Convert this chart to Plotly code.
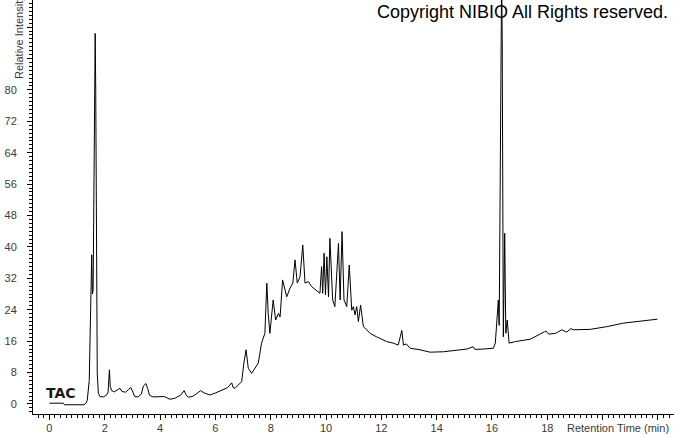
import plotly.graph_objects as go

# retention time (min) and relative intensity
rt_min = [
    0.00, 0.30, 0.50, 0.55, 0.80, 1.10, 1.25, 1.33, 1.37, 1.44, 1.48, 1.51, 1.53,
    1.555, 1.58, 1.61, 1.63, 1.655, 1.675, 1.69, 1.71, 1.73, 1.77, 1.83, 1.95,
    2.07, 2.12, 2.17, 2.20, 2.25, 2.35, 2.45, 2.55, 2.62, 2.75, 2.85, 2.94, 3.02,
    3.08, 3.20, 3.32, 3.40, 3.49, 3.55, 3.62, 3.75, 3.95, 4.15, 4.36, 4.55, 4.75,
    4.87, 4.95, 5.03, 5.20, 5.47, 5.60, 5.80, 6.00, 6.29, 6.45, 6.59, 6.64, 6.71,
    6.85, 6.95, 7.03, 7.11, 7.19, 7.31, 7.55, 7.67, 7.79, 7.86, 7.91, 7.97, 8.09,
    8.18, 8.28, 8.34, 8.43, 8.58, 8.70, 8.80, 8.88, 8.96, 9.06, 9.16, 9.24, 9.36,
    9.48, 9.66, 9.78, 9.84, 9.88, 9.93, 9.98, 10.03, 10.09, 10.14, 10.24, 10.32,
    10.39, 10.45, 10.51, 10.58, 10.65, 10.75, 10.84, 10.93, 10.99, 11.05, 11.11,
    11.17, 11.25, 11.35, 11.47, 11.59, 11.83, 11.95, 12.19, 12.43, 12.61, 12.74,
    12.80, 12.90, 13.04, 13.40, 13.76, 14.24, 14.85, 15.10, 15.32, 15.38, 15.70,
    16.05, 16.12, 16.18, 16.23, 16.26, 16.30, 16.33, 16.35, 16.37, 16.39, 16.41,
    16.46, 16.50, 16.55, 16.62, 16.85, 17.38, 17.90, 17.95, 18.05, 18.30, 18.52,
    18.70, 18.85, 18.95, 19.55, 20.15, 20.75, 21.35, 21.98,
]
intensity = [
    0.2, 0.2, 0.2, -0.2, -0.2, -0.3, -0.2, 0.3, 1.0, 6.0, 20.0, 33.0, 38.0,
    28.0, 29.0, 55.0, 80.0, 94.4, 80.0, 50.0, 24.8, 7.8, 2.7, 1.9, 1.8,
    2.3, 3.0, 8.7, 4.5, 3.4, 3.1, 3.5, 4.0, 3.2, 3.0, 3.6, 4.2, 3.0,
    1.9, 1.8, 2.5, 4.6, 5.2, 4.0, 2.2, 1.8, 1.8, 1.9, 1.2, 1.5, 2.3,
    3.4, 2.2, 1.7, 2.0, 3.4, 2.8, 2.3, 2.8, 3.6, 4.2, 5.4, 4.2, 4.0,
    5.0, 5.7, 10.4, 13.8, 9.1, 7.8, 10.4, 15.5, 18.0, 30.8, 23.1, 18.0, 26.5,
    21.4, 23.1, 22.2, 31.6, 27.3, 29.5, 30.8, 36.7, 30.8, 32.4, 40.5, 30.8, 31.2,
    29.9, 29.0, 28.2, 35.0, 28.2, 38.4, 27.8, 37.5, 27.3, 42.2, 26.5, 24.8,
    35.0, 40.9, 26.5, 43.9, 26.5, 24.8, 35.4, 23.9, 24.8, 22.7, 24.8,
    21.0, 25.2, 19.7, 18.9, 18.0, 17.1, 16.7, 15.9, 15.5, 15.0, 18.7,
    15.0, 15.3, 14.2, 13.8, 13.2, 13.3, 13.8, 14.0, 14.6, 13.9, 14.0,
    14.2, 15.5, 21.4, 26.5, 20.0, 60.0, 92.7, 110.0, 92.0, 60.0, 17.1,
    43.5, 18.0, 21.4, 15.5, 15.9, 16.5, 18.4, 18.6, 17.8, 18.0, 18.9,
    18.3, 19.2, 18.9, 19.0, 19.7, 20.6, 21.0, 21.6,
]

x_ticks = [0, 2, 4, 6, 8, 10, 12, 14, 16, 18, 20, 22]
x_labels = ["0", "2", "4", "6", "8", "10", "12", "14", "16", "18", "", ""]
y_ticks = [0, 8, 16, 24, 32, 40, 48, 56, 64, 72, 80, 88, 96]
y_labels = ["0", "8", "16", "24", "32", "40", "48", "56", "64", "72", "80", "", ""]

tick_font = dict(family="Liberation Sans, Arial, sans-serif", size=11, color="#3a3a3a")

fig = go.Figure(
    go.Scatter(
        x=rt_min,
        y=intensity,
        mode="lines",
        line=dict(color="black", width=1),
        hoverinfo="skip",
    )
)

fig.update_layout(
    width=674,
    height=434,
    margin=dict(l=33, r=0, t=0, b=20),
    plot_bgcolor="white",
    paper_bgcolor="white",
    showlegend=False,
)

fig.update_xaxes(
    range=[-0.593, 22.58],
    tickvals=x_ticks,
    ticktext=x_labels,
    ticks="outside",
    ticklen=5,
    tickcolor="black",
    tickfont=tick_font,
    ticklabelstandoff=-1,
    showline=True,
    linecolor="black",
    linewidth=1,
    showgrid=False,
    zeroline=False,
    automargin=False,
    minor=dict(dtick=0.2, ticks="outside", ticklen=3, tickcolor="black", showgrid=False),
)

fig.update_yaxes(
    range=[-2.55, 102.9],
    tickvals=y_ticks,
    ticktext=y_labels,
    ticks="outside",
    ticklen=5,
    tickcolor="black",
    tickfont=tick_font,
    ticklabelstandoff=8,
    showline=True,
    linecolor="black",
    linewidth=1,
    showgrid=False,
    zeroline=False,
    automargin=False,
    minor=dict(dtick=1, ticks="outside", ticklen=3, tickcolor="black", showgrid=False),
)

fig.add_annotation(
    text="Relative Intensity",
    textangle=-90,
    xref="paper", yref="paper",
    x=-0.0218, y=0.9106,
    xanchor="center", yanchor="middle",
    showarrow=False,
    font=tick_font,
)
fig.add_annotation(
    text="Retention Time (min)",
    xref="paper", yref="paper",
    x=0.9953, y=-0.0338,
    xanchor="right", yanchor="middle",
    showarrow=False,
    font=tick_font,
)
fig.add_annotation(
    text="Copyright NIBIO All Rights reserved.",
    xref="paper", yref="paper",
    x=0.7637, y=0.971,
    xanchor="center", yanchor="middle",
    showarrow=False,
    font=dict(family="Liberation Sans, Arial, sans-serif", size=18, color="black"),
)
fig.add_annotation(
    text="<b>TAC</b>",
    x=0.42, y=2.8,
    xanchor="center", yanchor="middle",
    showarrow=False,
    font=dict(family="DejaVu Sans, Verdana, sans-serif", size=14, color="#1a1a1a"),
)

# drop the page's default body margin so the figure sits at the window's corner
fig.write_html(
    "out.html",
    config={"displayModeBar": False},
    post_script="document.body.style.margin='0';",
)
